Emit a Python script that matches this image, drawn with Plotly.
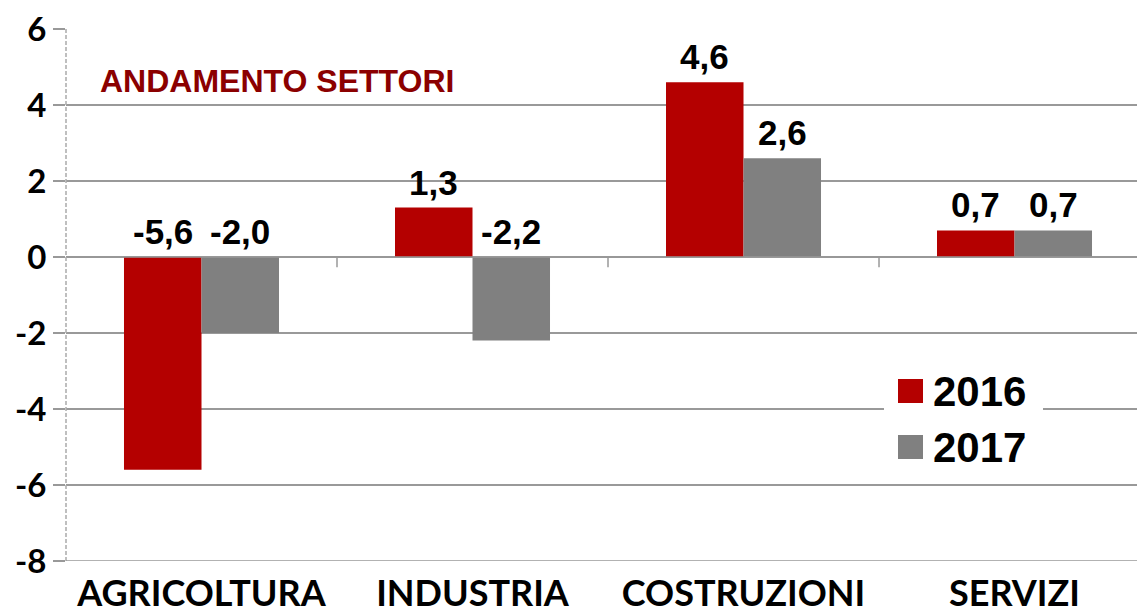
import plotly.graph_objects as go

categories = ["AGRICOLTURA", "INDUSTRIA", "COSTRUZIONI", "SERVIZI"]
years = ["2016", "2017"]
values_2016 = [-5.6, 1.3, 4.6, 0.7]
values_2017 = [-2.0, -2.2, 2.6, 0.7]
colors = ["#B40000", "#808080"]
y_ticks = [-8, -6, -4, -2, 0, 2, 4, 6]
title_text = "ANDAMENTO SETTORI"

series = [values_2016, values_2017]

fig = go.Figure()
for name, vals, col in zip(years, series, colors):
    fig.add_trace(go.Bar(
        x=categories, y=vals, name=name, marker=dict(color=col, line=dict(width=0)),
        showlegend=False,
    ))

# value labels above max(v,0)
offsets = [-0.143, 0.143]
for si, vals in enumerate(series):
    for ci, v in enumerate(vals):
        fig.add_annotation(
            x=ci + offsets[si], y=max(v, 0), xref="x", yref="y",
            text=f"<b>{v:.1f}</b>".replace(".", ","),
            showarrow=False, yanchor="bottom", yshift=4,
            font=dict(family="Liberation Sans, Arial", size=35, color="black"),
        )

# category-axis tick marks at zero line
for b in [0.5, 1.5, 2.5]:
    fig.add_shape(type="line", xref="x", yref="y", x0=b, x1=b, y0=0, y1=-0.27,
                  line=dict(color="#999999", width=1.5))

# zero line
fig.add_shape(type="line", xref="paper", yref="y", x0=0, x1=1, y0=0, y1=0,
              line=dict(color="#999999", width=1.5))

# manual legend
leg_y = [391, 447]
for name, col, py in zip(years, colors, leg_y):
    yc = 1 - (py - 29) / 532
    fig.add_shape(type="rect", xref="paper", yref="paper",
                  x0=(884 - 66) / 1071, x1=(1043 - 66) / 1071,
                  y0=yc - 26 / 532, y1=yc + 26 / 532,
                  fillcolor="white", line=dict(width=0), layer="above")
    fig.add_shape(type="rect", xref="paper", yref="paper",
                  x0=(898 - 66) / 1071, x1=(923 - 66) / 1071,
                  y0=yc - 12 / 532, y1=yc + 12 / 532,
                  fillcolor=col, line=dict(width=0), layer="above")
    fig.add_annotation(x=(931 - 66) / 1071, y=yc, xref="paper", yref="paper",
                       text=f"<b>{name}</b>", showarrow=False, xanchor="left", yanchor="middle",
                       font=dict(family="Liberation Sans, Arial", size=42, color="black"))

fig.add_annotation(x=(98 - 66) / 1071, y=1 - (81 - 29) / 532, xref="paper", yref="paper",
                   text=f"<b>{title_text}</b>", showarrow=False, xanchor="left", yanchor="middle",
                   font=dict(family="Liberation Sans, Arial", size=32, color="#8B0000"))

fig.update_layout(
    width=1137, height=613,
    margin=dict(l=66, r=0, t=29, b=52, autoexpand=False),
    plot_bgcolor="white", paper_bgcolor="white",
    barmode="group", bargap=0.428, bargroupgap=0,
    showlegend=False,
    xaxis=dict(
        range=[-0.5, 3.452], showgrid=False, showline=False, ticks="", automargin=False,
        tickfont=dict(family="Lato, Open Sans", size=36, color="black", weight="bold"),
        ticklabelstandoff=8,
    ),
    yaxis=dict(
        range=[-8, 6], tickvals=y_ticks, ticktext=[str(t) for t in y_ticks],
        showgrid=True, gridcolor="#999999", gridwidth=1.5, zeroline=False,
        showline=False, automargin=False,
        ticks="outside", ticklen=12, tickcolor="#999999", tickwidth=1.5,
        tickfont=dict(family="Lato, Open Sans", size=33, color="black", weight="bold"),
    ),
)
# dashed y-axis line
fig.add_shape(type="line", xref="paper", yref="paper", x0=0, x1=0, y0=0, y1=1,
              line=dict(color="#AAAAAA", width=1.5, dash="4px,2px"))
# bottom gridline at -8 (axis baseline)
fig.add_shape(type="line", xref="paper", yref="y", x0=0, x1=1, y0=-8, y1=-8,
              line=dict(color="#999999", width=1.5))

fig.write_html("out.html", config={"displayModeBar": False},
               post_script="document.body.style.margin='0';document.body.style.overflow='hidden';")
